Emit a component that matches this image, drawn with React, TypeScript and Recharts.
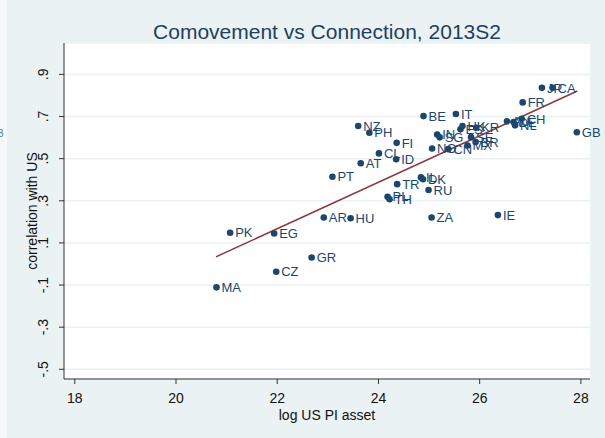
import { ScatterChart, Scatter, XAxis, YAxis, CartesianGrid } from "recharts";

const NAVY = "#1a476f";
const MAROON = "#90353b";
const BG = "#EAF2F3";
const FONT = "'Liberation Sans', Arial, sans-serif";

// country codes and their values
const codes = [
  "JP", "CA", "FR", "GB", "AU", "DE", "NL", "CH", "BE", "IT", "HK", "ES", "KR", "IN",
  "SG", "SE", "BR", "MX", "NO", "CN", "NZ", "PH", "FI", "CL", "ID", "AT", "PT", "TR",
  "IL", "DK", "RU", "PL", "TH", "ZA", "IE", "AR", "HU", "PK", "EG", "GR", "CZ", "MA",
];
const logAsset = [
  27.23, 27.44, 26.85, 27.92, 26.54, 26.67, 26.7, 26.83, 24.89, 25.53, 25.66, 25.62, 25.93, 25.16,
  25.21, 25.83, 25.92, 25.76, 25.06, 25.38, 23.6, 23.82, 24.36, 24.01, 24.35, 23.65, 23.09, 24.37,
  24.84, 24.88, 24.99, 24.18, 24.22, 25.05, 26.36, 22.92, 23.45, 21.07, 21.94, 22.68, 21.98, 20.8,
];
const corr = [
  0.836, 0.836, 0.767, 0.625, 0.677, 0.674, 0.658, 0.689, 0.702, 0.712, 0.655, 0.639, 0.647, 0.615,
  0.601, 0.602, 0.579, 0.562, 0.548, 0.545, 0.655, 0.623, 0.575, 0.525, 0.497, 0.478, 0.414, 0.379,
  0.411, 0.402, 0.351, 0.319, 0.307, 0.221, 0.232, 0.221, 0.217, 0.148, 0.145, 0.031, -0.037, -0.111,
];

// fitted line ends
const fitX = [20.79, 27.93];
const fitY = [0.034, 0.821];

const xTicks = [18, 20, 22, 24, 26, 28];
const yTicks = [-0.5, -0.3, -0.1, 0.1, 0.3, 0.5, 0.7, 0.9];

const points = codes.map((name, i) => ({ name, x: logAsset[i], y: corr[i] }));
const fit = fitX.map((x, i) => ({ x, y: fitY[i] }));

function fmtY(v: number) {
  const s = Math.abs(v).toFixed(1).replace(/^0/, "");
  return v < 0 ? "-" + s : s;
}

function Marker(props: any) {
  const { cx, cy, payload } = props;
  return (
    <g>
      <circle cx={cx} cy={cy} r={3.3} fill={NAVY} />
      <text x={cx + 5} y={cy} dy="0.36em" fontSize={13} fill={NAVY} fontFamily={FONT}>
        {payload.name}
      </text>
    </g>
  );
}

function XTick({ x, y, payload }: any) {
  return (
    <text x={x} y={y + 17} textAnchor="middle" fontSize={14} fill="#111" fontFamily={FONT}>
      {payload.value}
    </text>
  );
}

function YTick({ x, y, payload }: any) {
  const bx = x - 9;
  return (
    <text
      x={bx}
      y={y}
      transform={`rotate(-90 ${bx} ${y})`}
      textAnchor="middle"
      fontSize={14}
      fill="#111"
      fontFamily={FONT}
    >
      {fmtY(payload.value)}
    </text>
  );
}

export default function App() {
  return (
    <div style={{ position: "absolute", left: 0, top: 0, width: 605, height: 438, background: "#F6F9FA", overflow: "hidden" }}>
      <div style={{ position: "absolute", left: 7, top: 0, right: 0, bottom: 0, background: BG }} />
      <div style={{ position: "absolute", left: 0, top: 0 }}>
        <ScatterChart width={605} height={438} margin={{ top: 43, right: 15, bottom: 29, left: 0 }}>
          <CartesianGrid vertical={false} fill="#fff" stroke={BG} strokeWidth={1.5} />
          <XAxis
            type="number"
            dataKey="x"
            domain={[17.787, 28.18]}
            ticks={xTicks}
            interval={0}
            height={30}
            tickSize={5}
            tickMargin={2}
            stroke="#333"
            tick={<XTick />}
          />
          <YAxis
            type="number"
            dataKey="y"
            domain={[-0.546, 1.049]}
            ticks={yTicks}
            interval={0}
            width={64}
            tickSize={5}
            tickMargin={2}
            stroke="#333"
            tick={<YTick />}
          />
          <Scatter
            data={fit}
            line={{ stroke: MAROON, strokeWidth: 1.5 }}
            shape={() => <g />}
            isAnimationActive={false}
          />
          <Scatter data={points} shape={Marker} isAnimationActive={false} />
        </ScatterChart>
      </div>
      <svg width={605} height={438} style={{ position: "absolute", left: 0, top: 0, pointerEvents: "none" }}>
        <text x={327} y={39} textAnchor="middle" fontSize={21} fill="#1d3f62" fontFamily={FONT}>
          Comovement vs Connection, 2013S2
        </text>
        <text x={327} y={420} textAnchor="middle" fontSize={14} fill="#111" fontFamily={FONT}>
          log US PI asset
        </text>
        <text
          x={37}
          y={211}
          transform="rotate(-90 37 211)"
          textAnchor="middle"
          fontSize={14}
          fill="#111"
          fontFamily={FONT}
        >
          correlation with US
        </text>
        <text x={-3} y={137} fontSize={10} fill="#4a7fb0" fontFamily={FONT}>
          B
        </text>
      </svg>
    </div>
  );
}
